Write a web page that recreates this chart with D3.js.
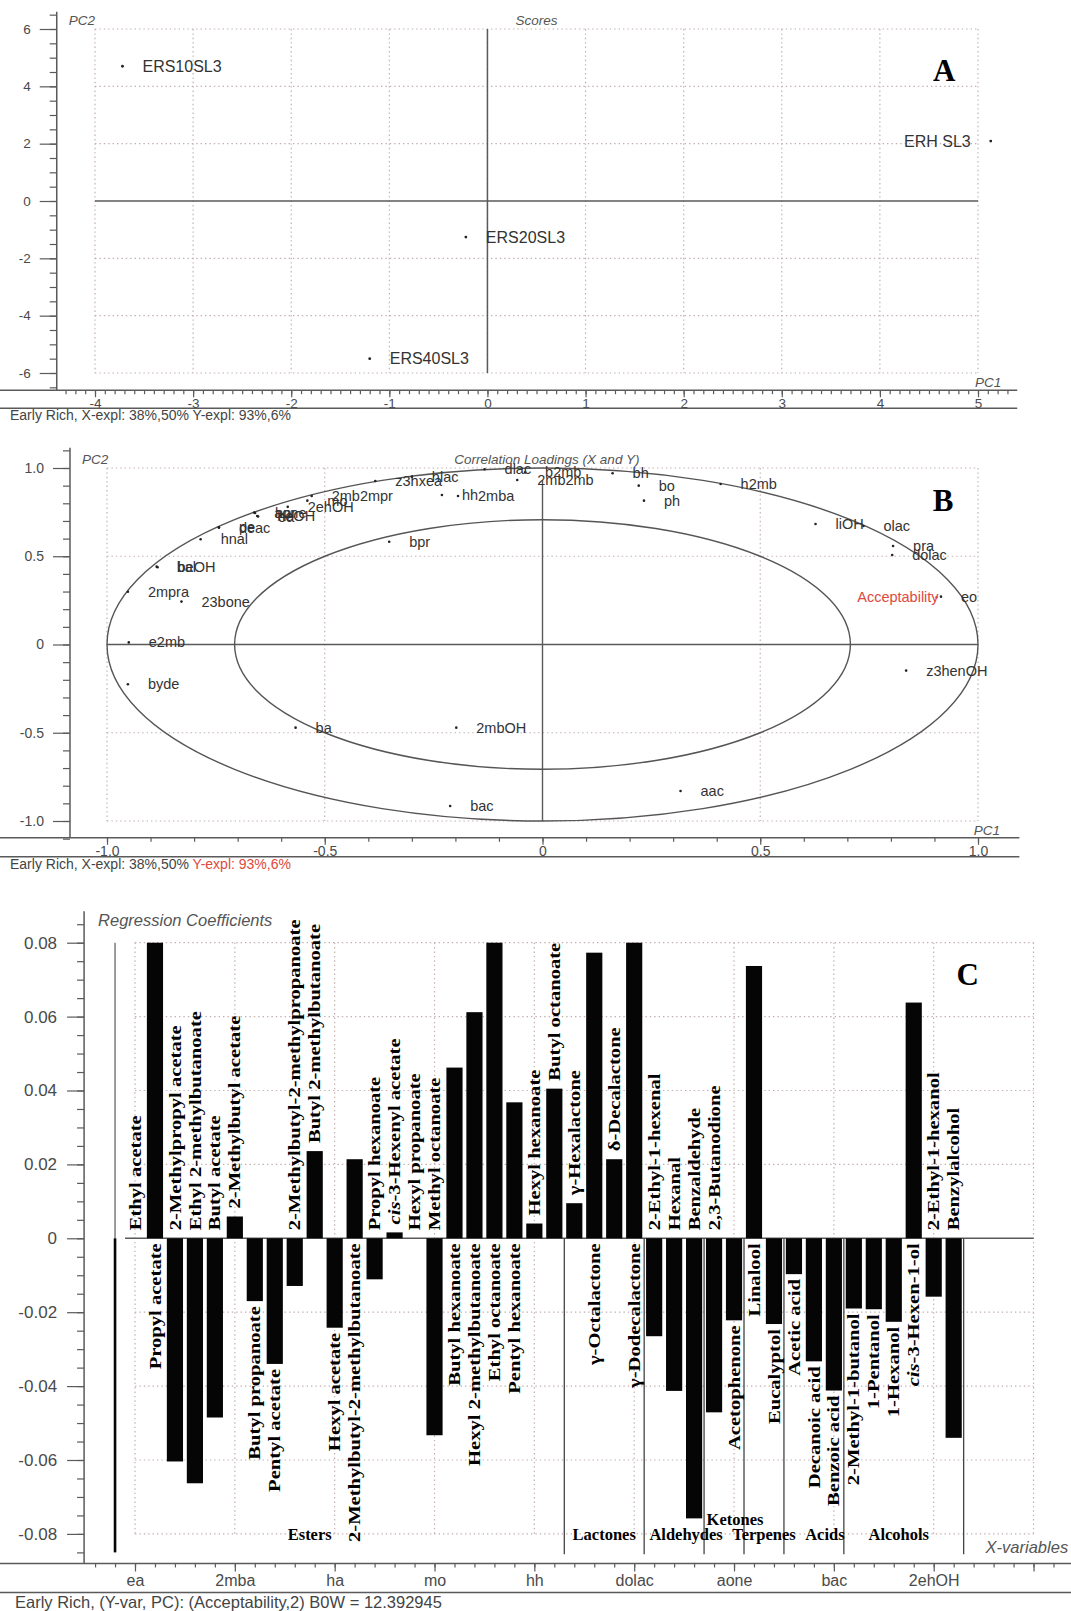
<!DOCTYPE html>
<html>
<head>
<meta charset="utf-8">
<script src="https://cdnjs.cloudflare.com/ajax/libs/d3/7.8.5/d3.min.js"></script>
<style>
  body { margin: 0; background: #fff; }
  #chart svg { display: block; }
</style>
</head>
<body>
<div id="chart"></div>
<script>
// ---------- panel A : scores ----------
var scoreNames = ['ERS10SL3', 'ERH SL3', 'ERS20SL3', 'ERS40SL3'];
var scorePC1 = [-3.72, 5.13, -0.22, -1.20];
var scorePC2 = [4.70, 2.09, -1.26, -5.50];

// ---------- panel B : correlation loadings ----------
var loadNames = ['2mpra', 'bal', 'beOH', '23bone', 'hnal', 'pe', 'deac', 'aone', 'hpr', 'heOH', 'ea',
    '2ehOH', 'mo', '2mb2mpr', 'bpr', 'z3hxea', 'hlac', 'hh', '2mba', 'dlac', '2mb2mb', 'b2mb',
    'bh', 'bo', 'ph', 'h2mb', 'liOH', 'olac', 'pra', 'dolac', 'eo', 'z3henOH', 'aac', 'bac',
    '2mbOH', 'ba', 'byde', 'e2mb'];
var loadPC1 = [-0.952, -0.886, -0.884, -0.829, -0.785, -0.743, -0.743, -0.662, -0.660, -0.655, -0.653,
    -0.585, -0.540, -0.530, -0.352, -0.384, -0.300, -0.231, -0.194, -0.133, -0.058, -0.040,
    0.161, 0.221, 0.233, 0.409, 0.627, 0.737, 0.805, 0.803, 0.915, 0.835, 0.317, -0.212,
    -0.198, -0.567, -0.952, -0.950];
var loadPC2 = [0.299, 0.441, 0.438, 0.243, 0.596, 0.664, 0.662, 0.748, 0.745, 0.728, 0.725,
    0.780, 0.815, 0.841, 0.582, 0.926, 0.950, 0.847, 0.841, 0.993, 0.932, 0.975,
    0.970, 0.900, 0.815, 0.909, 0.683, 0.671, 0.558, 0.507, 0.271, -0.148, -0.830, -0.915,
    -0.471, -0.471, -0.225, 0.012];
var yVarName = 'Acceptability';
var yVarPC1 = 0.905;
var yVarPC2 = 0.268;
var explainedCircles = [1.0, 0.707];

// ---------- panel C : regression coefficients ----------
var compounds = ['Ethyl acetate', 'Propyl acetate', '2-Methylpropyl acetate', 'Ethyl 2-methylbutanoate',
    'Butyl acetate', '2-Methylbutyl acetate', 'Butyl propanoate', 'Pentyl acetate',
    '2-Methylbutyl-2-methylpropanoate', 'Butyl 2-methylbutanoate', 'Hexyl acetate',
    '2-Methylbutyl-2-methylbutanoate', 'Propyl hexanoate', 'cis-3-Hexenyl acetate',
    'Hexyl propanoate', 'Methyl octanoate', 'Butyl hexanoate', 'Hexyl 2-methylbutanoate',
    'Ethyl octanoate', 'Pentyl hexanoate', 'Hexyl hexanoate', 'Butyl octanoate',
    'γ-Hexalactone', 'γ-Octalactone', 'δ-Decalactone', 'γ-Dodecalactone',
    '2-Ethyl-1-hexenal', 'Hexanal', 'Benzaldehyde', '2,3-Butanodione', 'Acetophenone',
    'Linalool', 'Eucalyptol', 'Acetic acid', 'Decanoic acid', 'Benzoic acid',
    '2-Methyl-1-butanol', '1-Pentanol', '1-Hexanol', 'cis-3-Hexen-1-ol',
    '2-Ethyl-1-hexanol', 'Benzylalcohol'];
var coefs = [-0.085, 0.080, -0.0604, -0.0663, -0.0485, 0.0059, -0.0170, -0.0340,
    -0.0129, 0.0236, -0.0242, 0.0214, -0.0111, 0.0016, 0.0, -0.0533, 0.0462, 0.0612,
    0.080, 0.0368, 0.0040, 0.0405, 0.0095, 0.0773, 0.0214, 0.080,
    -0.0265, -0.0413, -0.0758, -0.0471, -0.0222, 0.0737, -0.0232, -0.0097, -0.0333,
    -0.0412, -0.0190, -0.0192, -0.0226, 0.0638, -0.0158, -0.0540];
var tickCodes = ['ea', '2mba', 'ha', 'mo', 'hh', 'dolac', 'aone', 'bac', '2ehOH'];
var groupNames = ['Esters', 'Lactones', 'Aldehydes', 'Ketones', 'Terpenes', 'Acids', 'Alcohols'];
var groupLast = [21, 25, 28, 30, 32, 35, 41];

// layout only: which side of the bar each name sits on, nudges for the group names
var labelSide = 'abaaaabbaabbaaaabbbbaaababaaaabbbbbbbbbbaa';
var groupNudge = [-1.75, 0, 0.6, 0.55, 0, 0.55, -0.25];
var groupLift = [0, 0, 0, 15, 0, 0, 0];

var SANS = "'Liberation Sans', Arial, Helvetica, sans-serif";
var SERIF = "'Liberation Serif', 'Times New Roman', serif";
var AXIS = '#5a5a5a', GRID = '#c4aeae', TXT = '#333';

var svg = d3.select('#chart').append('svg')
    .attr('width', 1071)
    .attr('height', 1611);

function styleAxis(g, size) {
    g.select('.domain').remove();
    g.selectAll('line').attr('stroke', AXIS).attr('stroke-width', 1.2);
    g.selectAll('text').attr('fill', '#4a4a4a')
        .style('font-family', SANS).style('font-size', size + 'px');
}

function gridLines(g, vals, vertical, sx, sy, lo, hi) {
    g.selectAll(null).data(vals).enter().append('line')
        .attr('x1', function(d){ return vertical ? sx(d) : sx(lo); })
        .attr('x2', function(d){ return vertical ? sx(d) : sx(hi); })
        .attr('y1', function(d){ return vertical ? sy(hi) : sy(d); })
        .attr('y2', function(d){ return vertical ? sy(lo) : sy(d); })
        .attr('stroke', GRID)
        .attr('stroke-width', 1.2)
        .attr('stroke-dasharray', '1.4,3');
}

function solid(g, x1, y1, x2, y2, w) {
    g.append('line')
        .attr('x1', x1).attr('y1', y1).attr('x2', x2).attr('y2', y2)
        .attr('stroke', AXIS).attr('stroke-width', w || 1.3);
}

function italicLabel(g, x, y, txt, size, anchor) {
    g.append('text')
        .attr('x', x).attr('y', y)
        .attr('text-anchor', anchor || 'start')
        .style('font-family', SANS).style('font-style', 'italic')
        .style('font-size', size + 'px')
        .attr('fill', '#555')
        .text(txt);
}

function panelLetter(g, x, y, txt) {
    g.append('text')
        .attr('x', x).attr('y', y).attr('dy', '0.35em')
        .attr('text-anchor', 'middle')
        .style('font-family', SERIF).style('font-weight', 'bold')
        .style('font-size', '31px')
        .text(txt);
}

function tenths(a, b) {
    return d3.range(a, b + 1).map(function(i){ return i / 10; });
}

// ================= A =================
var xA = d3.scaleLinear().domain([-4, 5]).range([95, 978]);
var yA = d3.scaleLinear().domain([-6, 6]).range([373, 29]);
var gA = svg.append('g').attr('id', 'scores');
var axAx = xA(-4.39), axAy = yA(-6.6);

gridLines(gA, d3.range(-4, 6), true, xA, yA, -6, 6);
gridLines(gA, [6, 4, 2, -2, -4, -6], false, xA, yA, -4, 5);
solid(gA, xA(-4), yA(0), xA(5), yA(0), 1.5);
solid(gA, xA(0), yA(6), xA(0), yA(-6), 1.5);

gA.append('g').attr('transform', 'translate(' + axAx + ',0)')
    .call(d3.axisLeft(yA).tickValues(d3.range(-6.5, 7, 0.5)).tickSize(7).tickFormat(''))
    .call(styleAxis, 13.5);
gA.append('g').attr('transform', 'translate(' + axAx + ',0)')
    .call(d3.axisLeft(yA).tickValues([6, 4, 2, 0, -2, -4, -6]).tickSize(17).tickPadding(9).tickFormat(String))
    .call(styleAxis, 13.5);
gA.append('g').attr('transform', 'translate(0,' + axAy + ')')
    .call(d3.axisBottom(xA).tickValues(tenths(-43, 53)).tickSize(4).tickFormat(''))
    .call(styleAxis, 13.5);
gA.append('g').attr('transform', 'translate(0,' + axAy + ')')
    .call(d3.axisBottom(xA).tickValues(d3.range(-4, 6)).tickSize(7).tickPadding(1).tickFormat(String))
    .call(styleAxis, 13.5);
solid(gA, axAx, yA(6.6), axAx, axAy, 1.5);
solid(gA, 0, axAy, xA(5.4), axAy, 1.5);
solid(gA, 0, axAy + 18, xA(5.4), axAy + 18, 1.5);

gA.selectAll('circle').data(scoreNames).enter().append('circle')
    .attr('cx', function(d, i){ return xA(scorePC1[i]); })
    .attr('cy', function(d, i){ return yA(scorePC2[i]); })
    .attr('r', 1.4).attr('fill', '#222');
gA.selectAll('text.pt').data(scoreNames).enter().append('text')
    .attr('class', 'pt')
    .attr('x', function(d, i){ return xA(scorePC1[i]) + (scorePC1[i] > 4.5 ? -20 : 20); })
    .attr('y', function(d, i){ return yA(scorePC2[i]); })
    .attr('dy', '0.35em')
    .attr('text-anchor', function(d, i){ return scorePC1[i] > 4.5 ? 'end' : 'start'; })
    .style('font-family', SANS).style('font-size', '16px')
    .attr('fill', TXT)
    .text(function(d){ return d; });

italicLabel(gA, axAx + 12, yA(6) - 4, 'PC2', 13.5);
italicLabel(gA, (xA(-4) + xA(5)) / 2, yA(6) - 4, 'Scores', 13.5, 'middle');
italicLabel(gA, xA(4.97), axAy - 3, 'PC1', 13.5);
panelLetter(gA, xA(4.655), yA(4.55), 'A');
gA.append('text').attr('x', 10).attr('y', axAy + 30)
    .style('font-family', SANS).style('font-size', '14px').attr('fill', '#444')
    .text('Early Rich, X-expl: 38%,50%  Y-expl: 93%,6%');

// ================= B =================
var xB = d3.scaleLinear().domain([-1, 1]).range([107, 978]);
var yB = d3.scaleLinear().domain([-1, 1]).range([821, 468]);
var gB = svg.append('g').attr('id', 'loadings');
var axBx = xB(-1.085), axBy = yB(-1.095);

gridLines(gB, [-1, -0.5, 0.5, 1], true, xB, yB, -1, 1);
gridLines(gB, [1, 0.5, -0.5, -1], false, xB, yB, -1, 1);
solid(gB, xB(-1), yB(0), xB(1), yB(0), 1.5);
solid(gB, xB(0), yB(0.93), xB(0), yB(-1), 1.4);

gB.selectAll('ellipse').data(explainedCircles).enter().append('ellipse')
    .attr('cx', xB(0)).attr('cy', yB(0))
    .attr('rx', function(d){ return xB(d) - xB(0); })
    .attr('ry', function(d){ return yB(0) - yB(d); })
    .attr('fill', 'none').attr('stroke', '#555').attr('stroke-width', 1.4);

var fmt1 = function(d){ return d === 0 ? '0' : d.toFixed(1); };
gB.append('g').attr('transform', 'translate(' + axBx + ',0)')
    .call(d3.axisLeft(yB).tickValues(tenths(-11, 11)).tickSize(7).tickFormat(''))
    .call(styleAxis, 14);
gB.append('g').attr('transform', 'translate(' + axBx + ',0)')
    .call(d3.axisLeft(yB).tickValues([1, 0.5, 0, -0.5, -1]).tickSize(17).tickPadding(9).tickFormat(fmt1))
    .call(styleAxis, 14);
gB.append('g').attr('transform', 'translate(0,' + axBy + ')')
    .call(d3.axisBottom(xB).tickValues(tenths(-10, 10)).tickSize(4).tickFormat(''))
    .call(styleAxis, 14);
gB.append('g').attr('transform', 'translate(0,' + axBy + ')')
    .call(d3.axisBottom(xB).tickValues([-1, -0.5, 0, 0.5, 1]).tickSize(7).tickPadding(1).tickFormat(fmt1))
    .call(styleAxis, 14);
solid(gB, axBx, yB(1.115), axBx, axBy, 1.5);
solid(gB, 0, axBy, xB(1.095), axBy, 1.5);
solid(gB, 0, axBy + 19, xB(1.095), axBy + 19, 1.5);

gB.selectAll('circle.ld').data(loadNames).enter().append('circle')
    .attr('class', 'ld')
    .attr('cx', function(d, i){ return xB(loadPC1[i]); })
    .attr('cy', function(d, i){ return yB(loadPC2[i]); })
    .attr('r', 1.3).attr('fill', '#222');
gB.selectAll('text.ld').data(loadNames).enter().append('text')
    .attr('class', 'ld')
    .attr('x', function(d, i){ return xB(loadPC1[i]) + 20; })
    .attr('y', function(d, i){ return yB(loadPC2[i]); })
    .attr('dy', '0.35em')
    .style('font-family', SANS).style('font-size', '14.5px')
    .attr('fill', TXT)
    .text(function(d){ return d; });
gB.append('circle').attr('cx', xB(yVarPC1)).attr('cy', yB(yVarPC2)).attr('r', 1.3).attr('fill', '#d9473c');
gB.append('text')
    .attr('x', xB(yVarPC1) + 2).attr('y', yB(yVarPC2)).attr('dy', '0.35em')
    .attr('text-anchor', 'end')
    .style('font-family', SANS).style('font-size', '14.5px')
    .attr('fill', '#e0483d')
    .text(yVarName);

italicLabel(gB, axBx + 12, yB(1) - 4, 'PC2', 13.5);
italicLabel(gB, xB(0.01), yB(1) - 4, 'Correlation Loadings (X and Y)', 13.5, 'middle');
italicLabel(gB, xB(0.99), axBy - 3, 'PC1', 13.5);
panelLetter(gB, xB(0.92), yB(0.82), 'B');
var capB = gB.append('text').attr('x', 10).attr('y', axBy + 31)
    .style('font-family', SANS).style('font-size', '14px').attr('fill', '#444');
capB.append('tspan').text('Early Rich, X-expl: 38%,50%  ');
capB.append('tspan').attr('fill', '#e0483d').text('Y-expl: 93%,6%');

// ================= C =================
var xC = d3.scaleLinear().domain([0, 40]).range([135, 933.7]);
var yC = d3.scaleLinear().domain([-0.08, 0.08]).range([1533.9, 942.7]);
var gC = svg.append('g').attr('id', 'coefficients');
var axCx = xC(-2.55), axCy = yC(-0.088);
var slotW = xC(1) - xC(0);

gridLines(gC, d3.range(0, 46, 5), true, xC, yC, -0.08, 0.08);
gridLines(gC, [0.08, 0.06, 0.04, 0.02, -0.02, -0.04, -0.06, -0.08], false, xC, yC, 0, 45);
solid(gC, xC(-0.5), yC(0), xC(45), yC(0), 1.5);

var fmt2 = function(d){ return d === 0 ? '0' : d.toFixed(2); };
gC.append('g').attr('transform', 'translate(' + axCx + ',0)')
    .call(d3.axisLeft(yC).tickValues(d3.range(-17, 18).map(function(i){ return i * 0.005; })).tickSize(7).tickFormat(''))
    .call(styleAxis, 17);
gC.append('g').attr('transform', 'translate(' + axCx + ',0)')
    .call(d3.axisLeft(yC).tickValues([0.08, 0.06, 0.04, 0.02, 0, -0.02, -0.04, -0.06, -0.08])
        .tickSize(17).tickPadding(10).tickFormat(fmt2))
    .call(styleAxis, 17);
gC.append('g').attr('transform', 'translate(0,' + axCy + ')')
    .call(d3.axisBottom(xC).tickValues(d3.range(-2, 47)).tickSize(4).tickFormat(''))
    .call(styleAxis, 16);
gC.append('g').attr('transform', 'translate(0,' + axCy + ')')
    .call(d3.axisBottom(xC).tickValues(d3.range(0, 46, 5)).tickSize(8).tickPadding(3)
        .tickFormat(function(d){ return tickCodes[d / 5] || ''; }))
    .call(styleAxis, 16);
solid(gC, axCx, yC(0.0885), axCx, axCy, 1.5);
solid(gC, 0, axCy, 1071, axCy, 1.5);
solid(gC, 0, axCy + 29, 1071, axCy + 29, 1.5);

// frame line at the first slot, from the top grid line down to zero
solid(gC, xC(-1), yC(0.08), xC(-1), yC(0), 1.2);

gC.selectAll('rect.bar').data(coefs).enter().append('rect')
    .attr('class', 'bar')
    .attr('x', function(d, i){ return i === 0 ? xC(-1) - 1.3 : xC(i) - slotW * 0.405; })
    .attr('width', function(d, i){ return i === 0 ? 2.6 : slotW * 0.81; })
    .attr('y', function(d){ return yC(Math.max(d, 0)); })
    .attr('height', function(d){ return Math.abs(yC(d) - yC(0)); })
    .attr('fill', '#050505');

// group separators
gC.selectAll('line.sep').data(groupLast).enter().append('line')
    .attr('class', 'sep')
    .attr('x1', function(d){ return xC(d + 0.5); })
    .attr('x2', function(d){ return xC(d + 0.5); })
    .attr('y1', yC(0)).attr('y2', yC(-0.0855))
    .attr('stroke', '#444').attr('stroke-width', 1.3);

gC.selectAll('text.grp').data(groupNames).enter().append('text')
    .attr('class', 'grp')
    .attr('x', function(d, i){
        var first = i === 0 ? 0 : groupLast[i - 1] + 1;
        return xC((first + groupLast[i]) / 2 + groupNudge[i]);
    })
    .attr('y', function(d, i){ return yC(-0.08) - groupLift[i]; })
    .attr('dy', '0.35em')
    .attr('text-anchor', 'middle')
    .style('font-family', SERIF).style('font-weight', 'bold').style('font-size', '16.5px')
    .text(function(d){ return d; });

gC.selectAll('text.cmp').data(compounds).enter().append('text')
    .attr('class', 'cmp')
    .attr('transform', function(d, i){
        var v = coefs[i];
        var y = labelSide[i] === 'a' ? yC(Math.max(v, 0)) - 8 : yC(Math.min(v, 0)) + 5;
        return 'translate(' + xC(i) + ',' + y + ') rotate(-90) scale(1.25,1)';
    })
    .attr('text-anchor', function(d, i){ return labelSide[i] === 'a' ? 'start' : 'end'; })
    .attr('dy', '0.34em')
    .style('font-family', SERIF).style('font-weight', 'bold').style('font-size', '16.5px')
    .each(function(d){
        var t = d3.select(this);
        if (d.indexOf('cis-') === 0) {
            t.append('tspan').style('font-style', 'italic').text('cis');
            t.append('tspan').text(d.slice(3));
        } else {
            t.text(d);
        }
    });

italicLabel(gC, axCx + 14, yC(0.0845), 'Regression Coefficients', 16.5);
italicLabel(gC, xC(42.6), axCy - 10, 'X-variables', 16.5);
panelLetter(gC, xC(41.7), yC(0.0715), 'C');
gC.append('text').attr('x', 15).attr('y', axCy + 45)
    .style('font-family', SANS).style('font-size', '16.5px').attr('fill', '#444')
    .text('Early Rich, (Y-var, PC): (Acceptability,2) B0W = 12.392945');
</script>
</body>
</html>
